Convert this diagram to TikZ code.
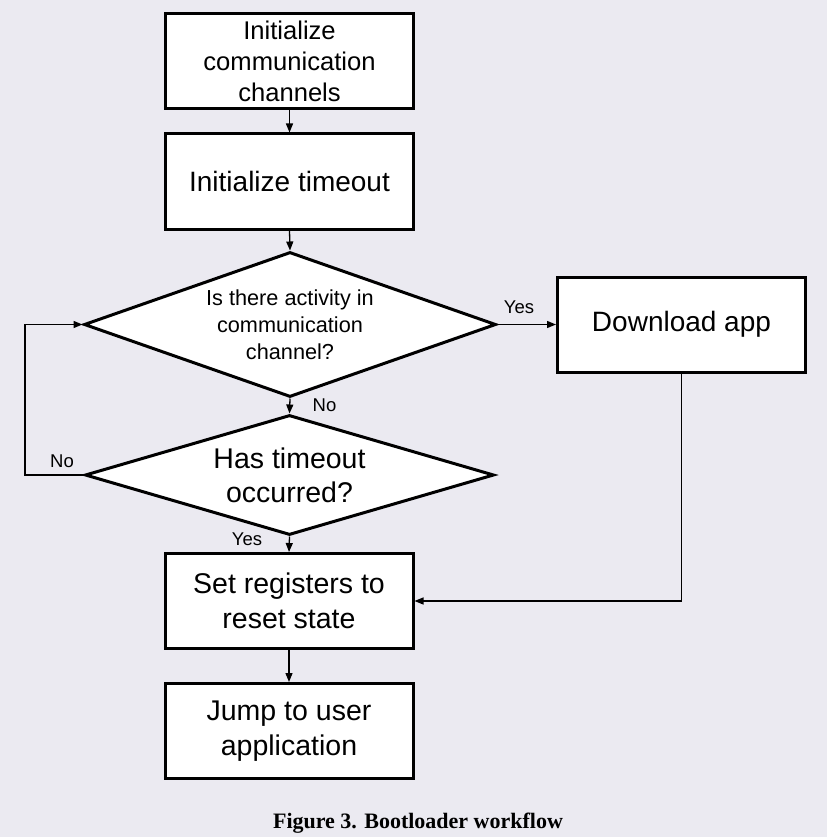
\documentclass[tikz,border=0pt]{standalone}
\usepackage{fontspec}
\setmainfont{Liberation Sans}
\newfontfamily\capfont{Liberation Serif}
\usetikzlibrary{shapes.geometric,arrows.meta}
\definecolor{bgc}{RGB}{235,234,241}
\tikzset{
  box/.style={draw=black, fill=white, line width=3pt, minimum width=248pt, minimum height=95pt, align=center, inner sep=0pt, font=\fontsize{28}{34}\selectfont},
  dec/.style={draw=black, fill=white, line width=3pt, shape=diamond, align=center, inner sep=0pt},
  conn/.style={line width=1.3pt, -{Triangle[length=9pt,width=7pt]}},
  lbl/.style={font=\fontsize{18.5}{20}\selectfont, inner sep=0pt}
}
\begin{document}
\begin{tikzpicture}[x=1pt,y=-1pt]
\fill[bgc] (0,0) rectangle (827,837);
\useasboundingbox (0,0) rectangle (827,837);
\node[box, font=\fontsize{25.6}{31}\selectfont] (b1) at (289.5,61) {Initialize\\communication\\channels};
\node[box] (b2) at (289.5,181.5) {Initialize timeout};
\node[dec, shape aspect=2.84, minimum width=412pt, minimum height=145pt, font=\fontsize{21.7}{27}\selectfont] (d1) at (290,324.5) {Is there activity in\\communication\\channel?};
\node[dec, shape aspect=3.41, minimum width=409pt, minimum height=120pt, font=\fontsize{28.5}{34}\selectfont] (d2) at (289.5,475) {Has timeout\\occurred?};
\node[box] (dl) at (681.5,324.5) {Download app};
\node[box, font=\fontsize{28.5}{35}\selectfont] (b3) at (289,601) {Set registers to\\reset state};
\node[box, font=\fontsize{28.5}{35}\selectfont] (b4) at (289,731) {Jump to user\\application};
\coordinate (lp) at (25,475);
\draw[conn] (b1.south) -- (b2.north);
\draw[conn] (b2.south) -- (d1.north);
\draw[conn] (d1.south) -- (d2.north);
\draw[conn] (d1.east) -- (dl.west);
\draw[conn] (d2.south) -- (b3.north);
\draw[conn] (d2.west) -- (lp) |- (d1.west);
\draw[conn] (dl.south) |- (b3.east);
\draw[conn] (b3.south) -- (b4.north);
\node[lbl] (ly1) at (519,307) {Yes};
\node[lbl] (ln1) at (324.5,405) {No};
\node[lbl] (ln2) at (62,461) {No};
\node[lbl] (ly2) at (247,539) {Yes};
\node[font=\capfont\bfseries\fontsize{22}{24}\selectfont, inner sep=0pt] (cap) at (418,823) {Figure 3. Bootloader workflow};
\end{tikzpicture}
\end{document}
